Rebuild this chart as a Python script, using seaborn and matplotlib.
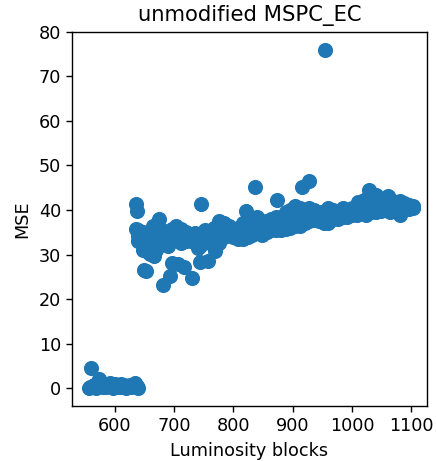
import matplotlib
matplotlib.use("Agg")
import matplotlib.pyplot as plt
import seaborn as sns
import pandas as pd

# --- cluster near zero (early luminosity blocks)
low_x = [556, 558, 560, 562, 565, 568, 571, 574, 577, 580, 583, 586, 589, 592, 595,
         598, 601, 604, 607, 610, 613, 616, 619, 622, 625, 628, 631, 634, 637, 640]
low_y = [0.0, 0.2, 4.6, 0.3, 0.8, 0.1, 0.6, 2.2, 1.3, 0.4, 0.9, 0.2, 0.5, 1.1, 0.3,
         0.0, 1.0, 0.6, 0.2, 0.9, 0.4, 0.7, 0.1, 0.3, 0.8, 0.2, 0.5, 1.3, 0.6, 0.0]

# --- main band
band_x = [640, 648, 656, 664, 672, 680, 688, 696, 704, 712, 720, 728, 736, 744, 752,
          760, 768, 776, 784, 792, 800, 808, 816, 824, 832, 840, 848, 856, 864, 872,
          880, 888, 896, 904, 912, 920, 928, 936, 944, 952, 960, 968, 976, 984, 992,
          1000, 1008, 1016, 1024, 1032, 1040, 1048, 1056, 1064, 1072, 1080, 1088, 1096, 1102]
band_hi = [35.5, 35.0, 34.5, 36.5, 35.0, 35.5, 34.5, 35.8, 36.5, 35.8, 35.0, 34.5, 34.8, 34.5, 35.5,
           35.0, 36.0, 37.5, 37.0, 36.5, 35.5, 36.0, 37.0, 37.5, 38.0, 38.5, 37.5, 37.5, 38.0, 38.5,
           38.5, 39.5, 40.0, 41.0, 40.5, 39.5, 40.5, 40.0, 39.5, 39.5, 40.5, 40.0, 39.5, 40.5, 40.0,
           40.5, 41.0, 42.0, 42.5, 41.5, 42.0, 41.5, 42.5, 42.5, 41.0, 42.0, 41.5, 41.2, 40.8]
band_mid = [34.2, 33.0, 32.5, 34.0, 34.0, 34.0, 33.8, 34.4, 35.0, 34.2, 34.0, 33.8, 34.0, 33.3, 34.2,
            33.8, 34.0, 35.5, 35.5, 35.5, 34.8, 34.8, 35.2, 35.8, 36.2, 36.6, 36.0, 36.2, 36.8, 37.0,
            37.0, 37.6, 38.0, 38.8, 38.5, 38.2, 39.0, 38.9, 38.5, 38.2, 38.8, 39.0, 38.8, 39.5, 39.2,
            39.8, 40.0, 40.8, 40.8, 40.5, 40.8, 40.6, 41.2, 41.0, 40.5, 40.5, 40.8, 40.7, 40.6]
band_lo = [33.0, 31.0, 30.5, 31.5, 33.0, 32.5, 33.0, 33.0, 33.5, 32.5, 33.0, 33.0, 33.2, 32.0, 33.0,
           32.5, 32.0, 33.5, 34.0, 34.5, 34.0, 33.5, 33.5, 34.0, 34.5, 34.8, 34.5, 35.0, 35.5, 35.5,
           35.5, 35.8, 36.0, 36.5, 36.5, 37.0, 37.5, 37.8, 37.5, 37.0, 37.0, 38.0, 38.0, 38.5, 38.5,
           39.0, 39.0, 39.5, 39.0, 39.5, 39.5, 39.8, 40.0, 39.5, 40.0, 39.0, 40.0, 40.2, 40.5]

# --- scattered points off the band
out_x = [636, 638, 636, 642, 645, 649, 653, 655, 660, 666, 670, 674, 682, 690, 694,
         696, 707, 716, 731, 740, 746, 744, 757, 769, 775, 822, 836, 874, 916, 928,
         955, 1028, 1040, 1061, 1010]
out_y = [41.4, 39.9, 35.7, 34.5, 33.5, 26.6, 26.3, 31.5, 30.2, 29.8, 31.0, 38.1, 23.1, 32.0, 25.3,
         28.2, 27.9, 27.2, 24.7, 31.5, 41.3, 28.3, 28.6, 30.9, 32.5, 39.9, 45.1, 42.3, 45.2, 46.5,
         75.9, 44.6, 43.4, 43.2, 41.7]

df = pd.DataFrame({
    "lumi": low_x + band_x + band_x + band_x + out_x,
    "mse": low_y + band_hi + band_mid + band_lo + out_y,
})

plt.rcParams.update({
    "font.size": 12.7,
    "axes.titlesize": 15.2,
    "axes.labelsize": 12.7,
    "xtick.labelsize": 12.7,
    "ytick.labelsize": 12.7,
    "xtick.major.size": 4.4,
    "ytick.major.size": 4.4,
    "xtick.major.width": 1.0,
    "ytick.major.width": 1.0,
    "axes.linewidth": 1.0,
    "axes.titlepad": 7.6,
    "axes.labelpad": 5.0,
})

fig = plt.figure(figsize=(4.36, 4.61), dpi=100)
ax = fig.add_subplot(111)
fig.subplots_adjust(left=0.165, right=0.979, bottom=0.119, top=0.931)

sns.scatterplot(data=df, x="lumi", y="mse", ax=ax, color="#1f77b4",
                s=92, edgecolor="#1f77b4", linewidth=1.27, alpha=1.0)

ax.set_xlim(528, 1126)
ax.set_ylim(-4, 80)
ax.set_xticks([600, 700, 800, 900, 1000, 1100])
ax.set_yticks([0, 10, 20, 30, 40, 50, 60, 70, 80])
ax.set_xlabel("Luminosity blocks")
ax.set_ylabel("MSE")
ax.set_title("unmodified MSPC_EC")

fig.savefig("out.png", dpi=100)
